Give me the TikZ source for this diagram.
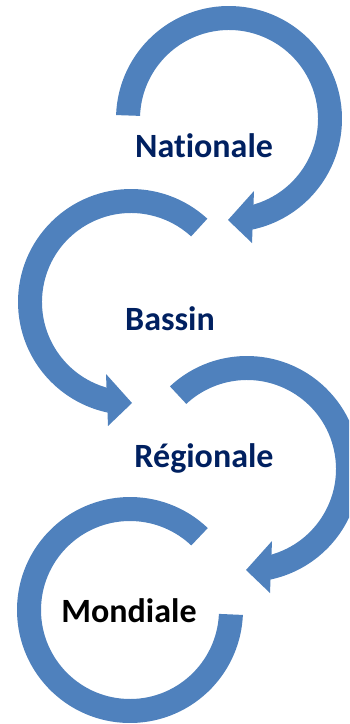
\documentclass[tikz,border=0pt]{standalone}
\usepackage{fontspec}
\setmainfont{Carlito}[Ligatures=NoCommon]
\usetikzlibrary{calc}
\definecolor{ringblue}{HTML}{4F81BD}
\definecolor{navytext}{HTML}{002060}
\begin{document}
\begin{tikzpicture}[x=1pt,y=1pt,
  ring/.style={fill=ringblue, draw=none},
  lbl/.style={font=\fontsize{34}{40}\selectfont\bfseries, text=navytext, anchor=base, inner sep=0pt}]
\useasboundingbox (0,0) rectangle (349,-724);
\clip (0,0) rectangle (349,-724);
% circle 1 (Nationale), clockwise
\begin{scope}[shift={(229,-119)}]
  \fill[ring] (178:113) arc[start angle=178, end angle=-78, radius=113] -- (-78:89) arc[start angle=-78, end angle=178, radius=89] -- cycle;
  \fill[ring] (25,-72) -- (-1,-101) -- (23,-124) -- cycle;
\end{scope}
% circle 2 (Bassin), counterclockwise
\begin{scope}[shift={(131,-302)}]
  \fill[ring] (47.5:113) arc[start angle=47.5, end angle=258, radius=113] -- (258:89) arc[start angle=258, end angle=47.5, radius=89] -- cycle;
  \fill[ring] (-25,-72) -- (1,-101) -- (-23,-124) -- cycle;
\end{scope}
% circle 3 (Regionale), clockwise
\begin{scope}[shift={(247,-469)}]
  \fill[ring] (133:113) arc[start angle=133, end angle=-78, radius=113] -- (-78:89) arc[start angle=-78, end angle=133, radius=89] -- cycle;
  \fill[ring] (25,-72) -- (-1,-101) -- (23,-124) -- cycle;
\end{scope}
% circle 4 (Mondiale), counterclockwise, no head
\begin{scope}[shift={(130,-610)}]
  \fill[ring] (46.5:113) arc[start angle=46.5, end angle=357.5, radius=113] -- (357.5:89) arc[start angle=357.5, end angle=46.5, radius=89] -- cycle;
\end{scope}
\node[lbl] (nat) at (204,-157) {Nationale};
\node[lbl] (bas) at (170,-330) {Bassin};
\node[lbl] (reg) at (204,-467) {Régionale};
\node[lbl, text=black] (mon) at (129,-622) {Mondiale};
\end{tikzpicture}
\end{document}
